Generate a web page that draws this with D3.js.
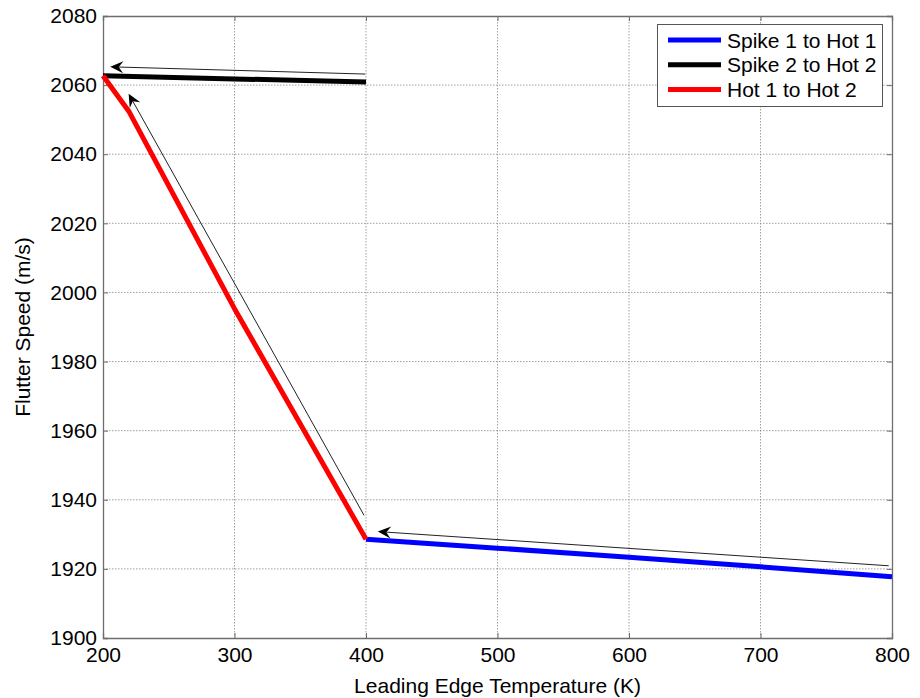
<!DOCTYPE html>
<html>
<head>
<meta charset="utf-8">
<script src="https://cdn.jsdelivr.net/npm/d3@7"></script>
<style>
  html, body { margin: 0; padding: 0; background: #fff; }
  svg text { font-family: "Liberation Sans", Arial, sans-serif; fill: #000; }
</style>
</head>
<body>
<svg id="chart" width="920" height="698"></svg>
<script>
// Flutter speed vs leading edge temperature for the three thermal transitions
const spike1ToHot1 = [[400, 1928.6], [500, 1926.0], [600, 1923.4], [700, 1920.6], [800, 1917.7]];
const spike2ToHot2 = [[200, 2062.7], [300, 2061.8], [400, 2060.9]];
const hot1ToHot2   = [[200, 2062.7], [220, 2052.2], [300, 1995.3], [400, 1928.6]];

// Direction arrows: [tail, head] in data units
const arrows = [
  [[399.4, 2063.2], [205.5, 2065.3]],
  [[398.5, 1935.5], [219.5, 2057.5]],
  [[797.5, 1920.9], [409.0, 1930.8]]
];

const xTicks = [200, 300, 400, 500, 600, 700, 800];
const yTicks = [1900, 1920, 1940, 1960, 1980, 2000, 2020, 2040, 2060, 2080];

const seriesList = [
  { name: "Spike 1 to Hot 1", data: spike1ToHot1, color: "#0000ff" },
  { name: "Spike 2 to Hot 2", data: spike2ToHot2, color: "#000000" },
  { name: "Hot 1 to Hot 2",   data: hot1ToHot2,   color: "#ff0000" }
];

const svg = d3.select("#chart");
const plotL = 103, plotR = 892, plotT = 16, plotB = 638;
const fontSize = 21;

const x = d3.scaleLinear().domain([200, 800]).range([plotL, plotR]);
const y = d3.scaleLinear().domain([1900, 2080]).range([plotB, plotT]);

// grid
const grid = svg.append("g");
grid.selectAll("line.gx").data(xTicks.slice(1, -1)).join("line")
  .attr("x1", d => x(d)).attr("x2", d => x(d))
  .attr("y1", plotT).attr("y2", plotB)
  .attr("stroke", "#888").attr("stroke-width", 0.8).attr("stroke-dasharray", "1.5,1.5");
grid.selectAll("line.gy").data(yTicks.slice(1, -1)).join("line")
  .attr("x1", plotL).attr("x2", plotR)
  .attr("y1", d => y(d)).attr("y2", d => y(d))
  .attr("stroke", "#888").attr("stroke-width", 0.8).attr("stroke-dasharray", "1.5,1.5");

// axes with inward ticks
const axisColor = "#6e6e6e";
const xAxis = svg.append("g").attr("transform", `translate(0,${plotB})`)
  .call(d3.axisBottom(x).tickValues(xTicks).tickSize(-5).tickPadding(9).tickFormat(d3.format("d")));
const xAxisTop = svg.append("g").attr("transform", `translate(0,${plotT})`)
  .call(d3.axisTop(x).tickValues(xTicks).tickSize(-5).tickFormat(""));
const yAxis = svg.append("g").attr("transform", `translate(${plotL},0)`)
  .call(d3.axisLeft(y).tickValues(yTicks).tickSize(-5).tickPadding(6).tickFormat(d3.format("d")));
const yAxisRight = svg.append("g").attr("transform", `translate(${plotR},0)`)
  .call(d3.axisRight(y).tickValues(yTicks).tickSize(-5).tickFormat(""));

[xAxis, xAxisTop, yAxis, yAxisRight].forEach(g => {
  g.select(".domain").attr("stroke", axisColor).attr("stroke-width", 1.3);
  g.selectAll(".tick line").attr("stroke", axisColor).attr("stroke-width", 1);
  g.selectAll(".tick text").attr("font-size", fontSize).attr("fill", "#000")
    .style("font-family", "'Liberation Sans', Arial, sans-serif");
});

// data lines
const line = d3.line().x(d => x(d[0])).y(d => y(d[1]));
svg.append("g").selectAll("path").data(seriesList).join("path")
  .attr("d", s => line(s.data))
  .attr("fill", "none")
  .attr("stroke", s => s.color)
  .attr("stroke-width", 5)
  .attr("stroke-linejoin", "round");

// arrows with notched heads
const ag = svg.append("g");
arrows.forEach(([t, h]) => {
  const x1 = x(t[0]), y1 = y(t[1]), x2 = x(h[0]), y2 = y(h[1]);
  const ang = Math.atan2(y2 - y1, x2 - x1);
  const len = 13, half = 6, back = 8.5;
  ag.append("line")
    .attr("x1", x1).attr("y1", y1)
    .attr("x2", x2 - Math.cos(ang) * back).attr("y2", y2 - Math.sin(ang) * back)
    .attr("stroke", "#222").attr("stroke-width", 1);
  const px = -Math.sin(ang), py = Math.cos(ang);
  const bx = x2 - Math.cos(ang) * len, by = y2 - Math.sin(ang) * len;
  const nx = x2 - Math.cos(ang) * back, ny = y2 - Math.sin(ang) * back;
  const pts = [
    [x2, y2],
    [bx + px * half, by + py * half],
    [nx, ny],
    [bx - px * half, by - py * half]
  ];
  ag.append("path").attr("d", "M" + pts.map(p => p.join(",")).join("L") + "Z")
    .attr("fill", "#000");
});

// axis titles
svg.append("text").attr("x", (plotL + plotR) / 2).attr("y", 693)
  .attr("text-anchor", "middle").attr("font-size", fontSize).text("Leading Edge Temperature (K)");
svg.append("text").attr("transform", `translate(30,${(plotT + plotB) / 2}) rotate(-90)`)
  .attr("text-anchor", "middle").attr("font-size", fontSize).text("Flutter Speed (m/s)");

// legend
const lg = svg.append("g");
lg.append("rect").attr("x", 657.5).attr("y", 24.5).attr("width", 225).attr("height", 82)
  .attr("fill", "#fff").attr("stroke", "#555").attr("stroke-width", 1);
seriesList.forEach((s, i) => {
  const ly = 40 + i * 24.7;
  lg.append("line").attr("x1", 668).attr("x2", 721).attr("y1", ly).attr("y2", ly)
    .attr("stroke", s.color).attr("stroke-width", 5);
  lg.append("text").attr("x", 727).attr("y", ly + 7.5).attr("font-size", fontSize).text(s.name);
});
</script>
</body>
</html>
